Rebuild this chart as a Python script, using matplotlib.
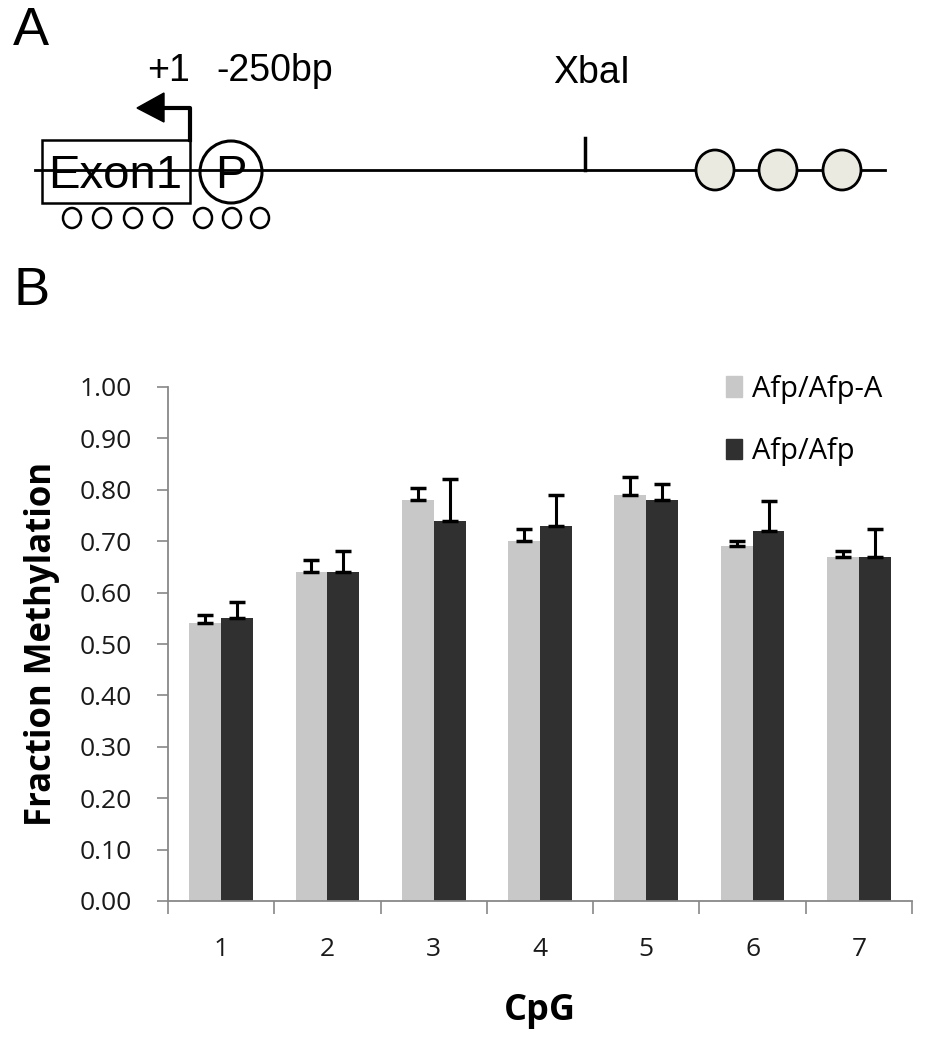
import numpy as np
from matplotlib import pyplot as plt
from matplotlib.patches import Rectangle, Ellipse, Circle, Patch

# data
cpg = [1, 2, 3, 4, 5, 6, 7]
afp_a = [0.54, 0.64, 0.78, 0.70, 0.79, 0.69, 0.67]
afp_a_err = [0.016, 0.023, 0.024, 0.024, 0.034, 0.010, 0.010]
afp = [0.55, 0.64, 0.74, 0.73, 0.78, 0.72, 0.67]
afp_err = [0.031, 0.041, 0.081, 0.059, 0.032, 0.059, 0.053]
yticks = [0.0, 0.1, 0.2, 0.3, 0.4, 0.5, 0.6, 0.7, 0.8, 0.9, 1.0]
series_names = ['Afp/Afp-A', 'Afp/Afp']

light = '#c8c8c8'
dark = '#303030'
sans = 'Liberation Sans'
cal = 'Open Sans'

fig = plt.figure(figsize=(9.25, 10.5), dpi=100)

# ---- panel A: gene diagram (pixel coordinates) ----
axd = fig.add_axes([0, 1 - 250 / 1050, 1, 250 / 1050])
axd.set_xlim(0, 925)
axd.set_ylim(250, 0)
axd.axis('off')
axd.text(13, 45, 'A', fontsize=39, family=sans, ha='left', va='baseline')
# main line
axd.plot([35, 885], [170, 170], color='black', lw=2, zorder=1)
# exon box
axd.add_patch(Rectangle((42, 140), 148, 63, fill=False, ec='black', lw=1.8, zorder=2))
axd.text(115, 188, 'Exon1', fontsize=34, family=sans, ha='center', va='baseline', zorder=3)
# promoter circle
axd.add_patch(Circle((231, 172), 31, fill=False, ec='black', lw=2.2, zorder=3))
axd.text(231, 188, 'P', fontsize=34, family=sans, ha='center', va='baseline', zorder=3)
# transcription start arrow
axd.plot([190, 190, 160], [140, 108, 108], color='black', lw=3)
axd.add_patch(plt.Polygon([[137, 108], [164, 93], [164, 122]], color='black'))
axd.text(147, 81, '+1', fontsize=27, family=sans, ha='left', va='baseline')
axd.text(216, 81, '-250bp', fontsize=27, family=sans, ha='left', va='baseline')
axd.text(553, 83, 'XbaI', fontsize=27, family=sans, ha='left', va='baseline')
# XbaI site
axd.plot([585, 585], [138, 170], color='black', lw=2.5)
# CpG circles
for cx in [715, 778, 842]:
    axd.add_patch(Ellipse((cx, 170), 38, 40, fc='#ebeae0', ec='black', lw=2, zorder=3))
for cx in [72, 102, 133, 163, 203, 232, 260]:
    axd.add_patch(Ellipse((cx, 218), 18, 20, fill=False, ec='black', lw=1.8, zorder=3))

fig.text(13 / 925, 1 - 305 / 1050, 'B', fontsize=39, family=sans, ha='left', va='baseline')

# ---- panel B: bar chart ----
ax = fig.add_axes([168 / 925, 149 / 1050, 744 / 925, 514 / 1050])
x = np.array(cpg)
w = 0.3
ax.bar(x - w / 2, afp_a, w, color=light, label=series_names[0], zorder=2)
ax.bar(x + w / 2, afp, w, color=dark, label=series_names[1], zorder=2)
ax.errorbar(x - w / 2, afp_a, yerr=[np.zeros(7), afp_a_err], fmt='none',
            ecolor='black', elinewidth=2.2, capsize=6, capthick=2.5, zorder=3)
ax.errorbar(x + w / 2, afp, yerr=[np.zeros(7), afp_err], fmt='none',
            ecolor='black', elinewidth=2.2, capsize=6, capthick=2.5, zorder=3)

ax.set_xlim(0.5, 7.5)
ax.set_ylim(0, 1.0)
ax.set_yticks(yticks)
ax.set_yticklabels(['%.2f' % v for v in yticks], fontsize=19, family=cal, color='#1a1a1a')
ax.set_xticks(x)
ax.set_xticklabels([str(c) for c in cpg], fontsize=19, family=cal, color='#1a1a1a')
ax.set_xticks(np.arange(0.5, 8.0, 1.0), minor=True)
ax.tick_params(axis='x', which='major', length=0, pad=26)
ax.tick_params(axis='x', which='minor', length=9, width=1.2, color='#888888', direction='out')
ax.tick_params(axis='y', length=8, width=1.2, color='#888888', pad=18)
for s in ['top', 'right']:
    ax.spines[s].set_visible(False)
for s in ['left', 'bottom']:
    ax.spines[s].set_color('#888888')
    ax.spines[s].set_linewidth(1.3)

ax.set_ylabel('Fraction Methylation', fontsize=25, family=cal, fontweight='bold')
ax.yaxis.set_label_coords(-0.145, 0.5)
ax.set_xlabel('CpG', fontsize=26, family=cal, fontweight='bold', labelpad=22)

handles = [Patch(color=light), Patch(color=dark)]
leg = ax.legend(handles, series_names, loc='upper right', bbox_to_anchor=(0.995, 1.075),
                frameon=False, handlelength=0.52, handleheight=0.7, handletextpad=0.35,
                labelspacing=1.15, prop={'family': cal, 'size': 21})

plt.savefig('out.png', dpi=100)
